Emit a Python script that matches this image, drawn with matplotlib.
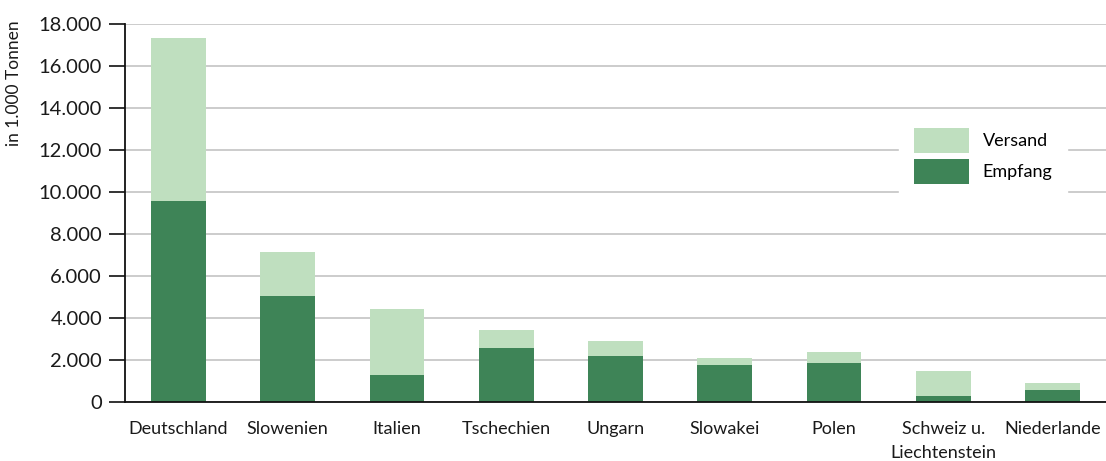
import numpy as np
import matplotlib
matplotlib.use("Agg")
import matplotlib.pyplot as plt
from matplotlib.ticker import FuncFormatter

laender = ["Deutschland", "Slowenien", "Italien", "Tschechien", "Ungarn",
           "Slowakei", "Polen", "Schweiz u.\nLiechtenstein", "Niederlande"]
empfang = [9570, 5050, 1290, 2570, 2190, 1760, 1860, 290, 570]
versand = [7770, 2100, 3140, 860, 720, 340, 520, 1190, 340]

farbe_empfang = "#3e8457"
farbe_versand = "#bfdfbf"

plt.rcParams["font.family"] = ["Lato", "DejaVu Sans"]

fig = plt.figure(figsize=(11.06, 4.61), dpi=100)
ax = fig.add_axes([125 / 1106, 1 - 402 / 461, 981 / 1106, 378 / 461])

x = np.arange(len(laender))
ax.bar(x, empfang, width=0.5, color=farbe_empfang, label="Empfang", zorder=3)
ax.bar(x, versand, width=0.5, bottom=empfang, color=farbe_versand,
       label="Versand", zorder=3)

ax.set_xlim(-0.49, 8.49)
ax.set_ylim(0, 18000)
ax.set_yticks(np.arange(0, 18001, 2000))
ax.yaxis.set_major_formatter(FuncFormatter(lambda v, p: f"{int(v):,}".replace(",", ".")))
ax.set_xticks(x)
ax.set_xticklabels(laender, linespacing=1.55)

ax.grid(axis="y", color="#cccccc", linewidth=1.4, zorder=0)
ax.set_axisbelow(True)
for s in ["top", "right"]:
    ax.spines[s].set_visible(False)
for s in ["left", "bottom"]:
    ax.spines[s].set_color("#111111")
    ax.spines[s].set_linewidth(1.3)
    ax.spines[s].set_zorder(4)

ax.tick_params(axis="y", length=11.5, width=1.2, color="#111111", pad=5,
               labelsize=14.5, labelcolor="#1a1a1a")
ax.tick_params(axis="x", length=0, pad=14, labelsize=13, labelcolor="#1a1a1a")

ax.set_ylabel("in 1.000 Tonnen", loc="top", fontsize=12.5, color="#1a1a1a")
ax.yaxis.set_label_coords(-0.105, 1.01)

h, l = ax.get_legend_handles_labels()
leg = ax.legend(h[::-1], l[::-1], loc="upper left", bbox_to_anchor=(0.789, 0.765),
                frameon=True, fancybox=False, edgecolor="white", framealpha=1,
                fontsize=13, handlelength=3.05, handleheight=1.8,
                labelspacing=0.3, handletextpad=0.75, borderpad=0.83,
                borderaxespad=0)
leg.set_zorder(5)

fig.savefig("out.png", dpi=100)
